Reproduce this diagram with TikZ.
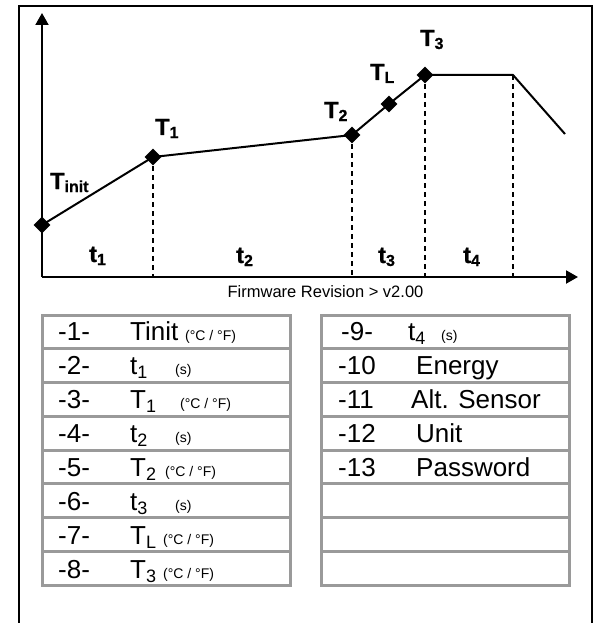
\documentclass[tikz,border=0pt]{standalone}
\usepackage{fontspec}
\setmainfont{Liberation Sans}
\newfontfamily\labfont{Liberation Sans}[BoldFeatures={FakeBold=0.6}]
\usetikzlibrary{arrows.meta,shapes.geometric}
\definecolor{rowgray}{HTML}{9A9A9A}
\newcommand\gsub[1]{\raisebox{-3pt}{\fontsize{16}{16}\selectfont\labfont\bfseries #1}}
\newcommand\tsub[1]{\raisebox{-4pt}{\fontsize{18}{18}\selectfont #1}}
\begin{document}
\begin{tikzpicture}[x=1pt,y=-1pt,
  frame/.style={line width=2pt,black},
  axis/.style={line width=2pt,black},
  curve/.style={line width=2pt,black},
  guide/.style={line width=1.4pt,black,dash pattern=on 5pt off 4pt},
  pt/.style={diamond,fill=black,inner sep=0pt,minimum size=17pt},
  glabel/.style={font=\fontsize{23.5}{23.5}\selectfont\labfont\bfseries,anchor=base west,inner sep=0pt},
  rowbox/.style={draw=rowgray,line width=3pt},
  big/.style={font=\fontsize{26}{26}\selectfont,anchor=base west,inner sep=0pt},
  unit/.style={font=\fontsize{14}{14}\selectfont,anchor=base west,inner sep=0pt}]
\useasboundingbox (0,0) rectangle (596,623);
% frame (open at bottom)
\draw[frame] (19,630) -- (19,6) -- (592,6) -- (592,630);
% axes
\coordinate (O) at (42,277);
\coordinate (ytop) at (42,13);
\coordinate (xend) at (578,277);
\draw[axis,-{Triangle[width=13pt,length=12pt]}] (O) -- (ytop);
\draw[axis,-{Triangle[width=13pt,length=12pt]}] (O) -- (xend);
% points
\node[pt] (Ti) at (42,225) {};
\node[pt] (P1) at (153,157) {};
\node[pt] (P2) at (352,135) {};
\node[pt] (PL) at (389,104) {};
\node[pt] (P3) at (425,75) {};
\coordinate (P4) at (513,75);
\coordinate (P5) at (565,134);
\draw[curve] (Ti.center) -- (P1.center) -- (P2.center) -- (PL.center) -- (P3.center) -- (P4) -- (P5);
% guides
\draw[guide] (P1.center) -- (P1 |- O);
\draw[guide] (P2.center) -- (P2 |- O);
\draw[guide] (P3.center) -- (P3 |- O);
\draw[guide] (P4) -- (P4 |- O);
% labels
\node[glabel] (lTi) at (50,189) {T\gsub{init}};
\node[glabel] (lT1) at (155,135) {T\gsub{1}};
\node[glabel] (lT2) at (324,118) {T\gsub{2}};
\node[glabel] (lTL) at (370,80) {T\gsub{L}};
\node[glabel] (lT3) at (420,46) {T\gsub{3}};
\node[glabel] (lt1) at (89,262) {t\gsub{1}};
\node[glabel] (lt2) at (236,263) {t\gsub{2}};
\node[glabel] (lt3) at (378,263) {t\gsub{3}};
\node[glabel] (lt4) at (463,263) {t\gsub{4}};
\node[font=\fontsize{16.5}{16.5}\selectfont,anchor=base,inner sep=0pt] (fw) at (325.5,297) {Firmware Revision > v2.00};
% tables
\foreach \i in {0,...,7} {
  \draw[rowbox] (42,315+33.75*\i) rectangle (290,315+33.75*\i+33.75);
  \draw[rowbox] (321,315+33.75*\i) rectangle (569,315+33.75*\i+33.75);
}
% left table text
\node[big] (n1) at (58,340) {-1-};
\node[big] (a1) at (130,340) {Tinit};
\node[unit] (u1) at (185,340) {(°C / °F)};
\node[big] (n2) at (58,374) {-2-};
\node[big] (a2) at (130,374) {t\tsub{1}};
\node[unit] (u2) at (175,374) {(s)};
\node[big] (n3) at (58,408) {-3-};
\node[big] (a3) at (130,408) {T\tsub{1}};
\node[unit] (u3) at (180,408) {(°C / °F)};
\node[big] (n4) at (58,442) {-4-};
\node[big] (a4) at (130,442) {t\tsub{2}};
\node[unit] (u4) at (175,442) {(s)};
\node[big] (n5) at (58,476) {-5-};
\node[big] (a5) at (130,476) {T\tsub{2}};
\node[unit] (u5) at (165,476) {(°C / °F)};
\node[big] (n6) at (58,510) {-6-};
\node[big] (a6) at (130,510) {t\tsub{3}};
\node[unit] (u6) at (175,510) {(s)};
\node[big] (n7) at (58,544) {-7-};
\node[big] (a7) at (130,544) {T\tsub{L}};
\node[unit] (u7) at (163,544) {(°C / °F)};
\node[big] (n8) at (58,578) {-8-};
\node[big] (a8) at (130,578) {T\tsub{3}};
\node[unit] (u8) at (163,578) {(°C / °F)};
% right table text
\node[big] (n9) at (341,340) {-9-};
\node[big] (a9) at (408,340) {t\tsub{4}};
\node[unit] (u9) at (441,340) {(s)};
\node[big] (n10) at (338,374) {-10};
\node[big] (a10) at (416,374) {Energy};
\node[big] (n11) at (338,408) {-11};
\node[big] (a11) at (411,408) {Alt. Sensor};
\node[big] (n12) at (338,442) {-12};
\node[big] (a12) at (416,442) {Unit};
\node[big] (n13) at (338,476) {-13};
\node[big] (a13) at (416,476) {Password};
\end{tikzpicture}
\end{document}
